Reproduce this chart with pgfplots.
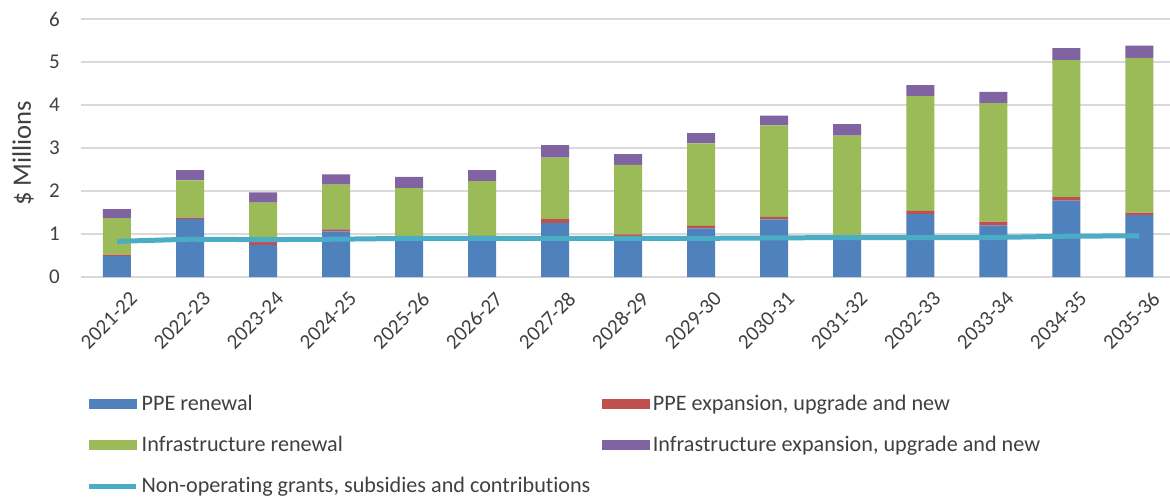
\documentclass[border=0pt]{standalone}
\usepackage{pgfplots}
\pgfplotsset{compat=1.18}
\usepackage{fontspec}
\setmainfont{Carlito}[Ligatures={NoCommon}]
\definecolor{cBlue}{HTML}{4F81BD}
\definecolor{cRed}{HTML}{C0504D}
\definecolor{cGreen}{HTML}{9BBB59}
\definecolor{cPurple}{HTML}{8064A2}
\definecolor{cLine}{HTML}{4BACC6}
\definecolor{cGrid}{HTML}{D9D9D9}
\definecolor{cText}{HTML}{404040}
\pgfplotsset{
  common/.style={
    scale only axis,
    width=653.4pt, height=154.6pt,
    xmin=-0.493, xmax=14.42,
    ymin=0, ymax=6,
    axis line style={draw=none},
    tick style={draw=none},
  }
}
\begin{document}
\begin{tikzpicture}
\begin{axis}[
  common,
  ytick={0,1,2,3,4,5,6},
  xtick={0,...,14},
  xticklabels={2021-22,2022-23,2023-24,2024-25,2025-26,2026-27,2027-28,2028-29,2029-30,2030-31,2031-32,2032-33,2033-34,2034-35,2035-36},
  ymajorgrids, grid style={cGrid, line width=1.2pt},
  /pgf/number format/assume math mode=true,
  tick label style={font=\fontsize{12.6pt}{14pt}\selectfont, text=cText},
  yticklabel style={anchor=east, inner sep=0pt, xshift=-12.6pt},
  xticklabel style={rotate=45, anchor=east, inner sep=0pt, xshift=-0.6pt, yshift=-15pt},
  ylabel={\$ Millions},
  ylabel style={at={(axis description cs:0,0.48)}, anchor=center, yshift=34.8pt, font=\fontsize{16pt}{18pt}\selectfont, text=cText},
  ybar stacked, bar width=16.8pt,
]
\addplot[fill=cBlue, draw=none] coordinates {(0,0.49)(1,1.35)(2,0.75)(3,1.06)(4,0.94)(5,0.95)(6,1.26)(7,0.95)(8,1.13)(9,1.34)(10,0.95)(11,1.47)(12,1.20)(13,1.78)(14,1.44)};
\addplot[fill=cRed, draw=none] coordinates {(0,0.03)(1,0.03)(2,0.07)(3,0.05)(4,0.01)(5,0.01)(6,0.09)(7,0.04)(8,0.06)(9,0.06)(10,0.01)(11,0.07)(12,0.09)(13,0.08)(14,0.06)};
\addplot[fill=cGreen, draw=none] coordinates {(0,0.85)(1,0.87)(2,0.91)(3,1.04)(4,1.12)(5,1.27)(6,1.43)(7,1.62)(8,1.92)(9,2.13)(10,2.33)(11,2.67)(12,2.76)(13,3.19)(14,3.60)};
\addplot[fill=cPurple, draw=none] coordinates {(0,0.21)(1,0.24)(2,0.24)(3,0.24)(4,0.26)(5,0.26)(6,0.29)(7,0.25)(8,0.24)(9,0.23)(10,0.27)(11,0.26)(12,0.26)(13,0.28)(14,0.29)};
\coordinate (O) at (rel axis cs:0,0);
\end{axis}
\begin{axis}[
  common,
  xtick=\empty, ytick=\empty,
  legend columns=2,
  legend cell align=left,
  legend style={draw=none, fill=none, inner sep=0pt,
    at={(axis description cs:0.0046,-0.443)}, anchor=north west,
    font=\fontsize{13.3pt}{15pt}\selectfont, text=cText,
    /tikz/every even column/.append style={column sep=4.8pt},
    row sep=10pt},
]
\addlegendimage{legend image code/.code={\fill[cBlue] (0pt,-2.7pt) rectangle (28.2pt,2.7pt);}}
\addlegendentry{PPE renewal}
\addlegendimage{legend image code/.code={\fill[cRed] (0pt,-2.7pt) rectangle (28.2pt,2.7pt);}}
\addlegendentry{PPE expansion, upgrade and new}
\addlegendimage{legend image code/.code={\fill[cGreen] (0pt,-2.7pt) rectangle (28.2pt,2.7pt);}}
\addlegendentry{Infrastructure renewal}
\addlegendimage{legend image code/.code={\fill[cPurple] (0pt,-2.7pt) rectangle (28.2pt,2.7pt);}}
\addlegendentry{Infrastructure expansion, upgrade and new}
\addplot[sharp plot, cLine, line width=3pt, mark=none, legend image code/.code={\draw[cLine, line width=3pt] (0pt,0pt) -- (28.2pt,0pt);}] coordinates {(0,0.83)(1,0.88)(2,0.87)(3,0.88)(4,0.90)(5,0.90)(6,0.90)(7,0.90)(8,0.90)(9,0.91)(10,0.92)(11,0.92)(12,0.92)(13,0.95)(14,0.96)};
\addlegendentry{Non-operating grants, subsidies and contributions}
\end{axis}
\pgfresetboundingbox
\path (O) ++(-48.6pt,-132pt) rectangle ++(702pt,298.2pt);
\end{tikzpicture}
\end{document}
